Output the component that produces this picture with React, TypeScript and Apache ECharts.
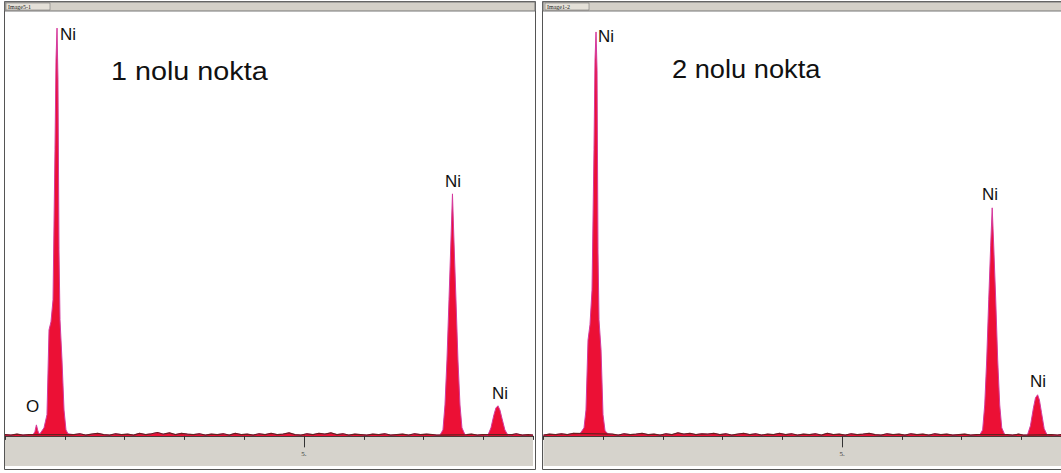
import React, { useEffect, useRef } from "react";
import * as echarts from "echarts";

// ---- data (keV, counts) ----
const p1NiL: [number, number][] = [
  [0.585, 5], [0.652, 19], [0.702, 50], [0.736, 250], [0.769, 269], [0.803, 321],
  [0.836, 675], [0.853, 887], [0.87, 962], [0.886, 840], [0.903, 439], [0.92, 274],
  [0.953, 179], [0.987, 61], [1.02, 14], [1.054, 5],
];
const p1O: [number, number][] = [[0.47, 3], [0.5, 10], [0.525, 26], [0.55, 12], [0.57, 5]];
const p1NiKa: [number, number][] = [
  [7.274, 2], [7.324, 14], [7.358, 73], [7.391, 179], [7.425, 321], [7.458, 462],
  [7.483, 571], [7.508, 462], [7.542, 321], [7.575, 179], [7.609, 73], [7.642, 19], [7.692, 3],
];
const p1NiKb: [number, number][] = [
  [8.077, 2], [8.127, 19], [8.177, 50], [8.21, 66], [8.244, 71], [8.277, 61],
  [8.31, 42], [8.36, 14], [8.41, 2],
];
const p1Noise: [number, number][] = [
  [0, 3], [0.1, 2], [0.2, 4], [0.3, 2], [0.4, 3],
  [1.15, 3], [1.25, 5], [1.35, 2], [1.45, 4], [1.55, 6], [1.65, 3], [1.75, 2], [1.85, 5],
  [1.95, 3], [2.05, 4], [2.15, 2], [2.25, 6], [2.35, 3], [2.45, 5], [2.55, 8], [2.65, 4],
  [2.75, 7], [2.85, 3], [2.95, 6], [3.05, 4], [3.15, 3], [3.25, 5], [3.35, 2], [3.45, 4],
  [3.55, 3], [3.65, 5], [3.75, 2], [3.85, 6], [3.95, 3], [4.05, 4], [4.15, 2], [4.25, 5],
  [4.35, 3], [4.45, 6], [4.55, 3], [4.65, 4], [4.75, 7], [4.85, 3], [4.95, 2], [5.05, 5],
  [5.15, 3], [5.25, 6], [5.35, 4], [5.45, 7], [5.55, 3], [5.65, 5], [5.75, 2], [5.85, 4],
  [5.95, 3], [6.05, 2], [6.15, 4], [6.25, 3], [6.35, 5], [6.45, 2], [6.55, 3], [6.65, 4],
  [6.75, 2], [6.85, 5], [6.95, 3], [7.05, 4], [7.15, 3], [7.22, 2],
  [7.72, 3], [7.8, 4], [7.9, 2], [7.98, 3], [8.48, 3], [8.55, 5], [8.65, 2], [8.75, 3], [8.83, 2],
];

const p2NiL: [number, number][] = [
  [0.611, 5], [0.678, 19], [0.711, 61], [0.745, 226], [0.778, 262], [0.812, 344],
  [0.845, 675], [0.862, 887], [0.879, 953], [0.896, 863], [0.912, 439], [0.929, 274],
  [0.963, 203], [0.996, 50], [1.03, 12], [1.08, 5],
];
const p2NiKa: [number, number][] = [
  [7.3, 2], [7.35, 14], [7.385, 73], [7.418, 179], [7.452, 321], [7.485, 450],
  [7.51, 538], [7.535, 450], [7.569, 321], [7.602, 179], [7.636, 73], [7.67, 19], [7.72, 3],
];
const p2NiKb: [number, number][] = [
  [8.1, 2], [8.15, 24], [8.2, 66], [8.235, 90], [8.27, 97], [8.3, 85],
  [8.335, 55], [8.38, 17], [8.43, 2],
];
const p2Noise: [number, number][] = [
  [0, 2], [0.1, 4], [0.2, 3], [0.3, 5], [0.4, 3], [0.5, 6],
  [1.15, 4], [1.25, 2], [1.35, 5], [1.45, 3], [1.55, 4], [1.65, 6], [1.75, 3], [1.85, 4],
  [1.95, 2], [2.05, 5], [2.15, 3], [2.25, 7], [2.35, 4], [2.45, 6], [2.55, 3], [2.65, 5],
  [2.75, 4], [2.85, 6], [2.95, 3], [3.05, 5], [3.15, 2], [3.25, 4], [3.35, 6], [3.45, 3],
  [3.55, 5], [3.65, 2], [3.75, 4], [3.85, 3], [3.95, 6], [4.05, 3], [4.15, 5], [4.25, 2],
  [4.35, 4], [4.45, 3], [4.55, 5], [4.65, 2], [4.75, 6], [4.85, 3], [4.95, 4], [5.05, 2],
  [5.15, 5], [5.25, 3], [5.35, 4], [5.45, 6], [5.55, 3], [5.65, 2], [5.75, 5], [5.85, 3],
  [5.95, 4], [6.05, 2], [6.15, 5], [6.25, 3], [6.35, 4], [6.45, 2], [6.55, 5], [6.65, 3],
  [6.75, 4], [6.85, 2], [6.95, 3], [7.05, 4], [7.15, 2], [7.25, 3],
  [7.76, 3], [7.85, 2], [7.95, 4], [8.03, 2], [8.5, 3], [8.6, 2], [8.67, 3],
];

const xMax1 = 8.83;
const xMax2 = 8.67;
const yMin = -71;
const yMax = 1000;
const majorTickKeV = 5;
const majorTickLabel = "5.";

const peakRed = "#ec1035";
const peakEdge = "#d43a9e";
const noiseColor = "#6a1f1f";

function merge(...parts: [number, number][][]): [number, number][] {
  return parts.flat().slice().sort((a, b) => a[0] - b[0]);
}

export default function App() {
  const ref = useRef<HTMLDivElement>(null);
  useEffect(() => {
    if (!ref.current) return;
    const chart = echarts.init(ref.current, undefined, { renderer: "svg" });
    const spec1 = merge(p1Noise, p1O, p1NiL, p1NiKa, p1NiKb);
    const spec2 = merge(p2Noise, p2NiL, p2NiKa, p2NiKb);

    const xAxisBase = (max: number, idx: number) => ({
      type: "value",
      gridIndex: idx,
      min: 0,
      max,
      interval: 1,
      z: 5,
      axisLine: { show: true, onZero: true, lineStyle: { color: "#4a3a3a", width: 1 } },
      axisTick: { show: true, length: 4, lineStyle: { color: "#333" } },
      axisLabel: { show: false },
      splitLine: { show: false },
    });
    const yAxisBase = (idx: number) => ({
      type: "value",
      gridIndex: idx,
      min: yMin,
      max: yMax,
      show: false,
      splitLine: { show: false },
    });
    const specSeries = (data: [number, number][], idx: number) => ({
      type: "line",
      xAxisIndex: idx,
      yAxisIndex: idx,
      data,
      symbol: "none",
      z: 2,
      lineStyle: { color: peakEdge, width: 1 },
      areaStyle: { color: peakRed, opacity: 1, origin: 0 },
      markArea: {
        silent: true,
        itemStyle: { color: "#d6d3cc" },
        data: [[{ yAxis: yMin }, { yAxis: 0 }]],
      },
      markLine: {
        silent: true,
        symbol: "none",
        lineStyle: { color: "#333", width: 1, type: "solid" },
        label: {
          show: true,
          position: "end",
          formatter: majorTickLabel,
          fontSize: 7,
          color: "#333",
          distance: 3,
          fontFamily: "Liberation Serif",
        },
        data: [[{ coord: [majorTickKeV, 0] }, { coord: [majorTickKeV, -27] }]],
      },
    });
    const noiseSeries = (data: [number, number][], idx: number) => ({
      type: "line",
      xAxisIndex: idx,
      yAxisIndex: idx,
      data,
      symbol: "none",
      z: 3,
      lineStyle: { color: noiseColor, width: 1.2 },
    });

    const txt = (x: number, y: number, text: string, size: number, scaleX = 1) => ({
      type: "text",
      x,
      y,
      scaleX,
      z: 20,
      style: { text, fontSize: size, fill: "#111", fontFamily: "Liberation Sans" },
    });

    chart.setOption({
      animation: false,
      backgroundColor: "#ffffff",
      grid: [
        { left: 5, top: 12, width: 528, height: 454, outerBoundsMode: "none", containLabel: false },
        { left: 543.5, top: 12, width: 518, height: 454, outerBoundsMode: "none", containLabel: false },
      ],
      xAxis: [xAxisBase(xMax1, 0), xAxisBase(xMax2, 1)],
      yAxis: [yAxisBase(0), yAxisBase(1)],
      series: [
        specSeries(spec1, 0),
        noiseSeries(p1Noise, 0),
        specSeries(spec2, 1),
        noiseSeries(p2Noise, 1),
      ],
      graphic: [
        // panel frames
        { type: "rect", shape: { x: 4.5, y: 1.5, width: 531, height: 468 }, style: { fill: "none", stroke: "#555", lineWidth: 1 }, z: 10 },
        { type: "rect", shape: { x: 542.5, y: 1.5, width: 530, height: 468 }, style: { fill: "none", stroke: "#555", lineWidth: 1 }, z: 10 },
        // title bars
        { type: "rect", shape: { x: 5, y: 2, width: 530, height: 9 }, style: { fill: "#d4d0c8", stroke: "#777", lineWidth: 1 }, z: 11 },
        { type: "rect", shape: { x: 543, y: 2, width: 530, height: 9 }, style: { fill: "#d4d0c8", stroke: "#777", lineWidth: 1 }, z: 11 },
        { type: "rect", shape: { x: 6, y: 3, width: 44, height: 7 }, style: { fill: "#e4e0d8", stroke: "#666", lineWidth: 0.5 }, z: 12 },
        { type: "rect", shape: { x: 545, y: 3, width: 44, height: 7 }, style: { fill: "#e4e0d8", stroke: "#666", lineWidth: 0.5 }, z: 12 },
        { type: "text", x: 8, y: 3.5, z: 13, style: { text: "Image5-1", fontSize: 6, fill: "#222", fontFamily: "Liberation Serif" } },
        { type: "text", x: 547, y: 3.5, z: 13, style: { text: "Image1-2", fontSize: 6, fill: "#222", fontFamily: "Liberation Serif" } },
        // peak labels
        txt(60, 26, "Ni", 17),
        txt(445, 173, "Ni", 17),
        txt(492, 385, "Ni", 17),
        txt(26, 398, "O", 17),
        txt(598, 28, "Ni", 17),
        txt(982, 186, "Ni", 17),
        txt(1030, 373, "Ni", 17),
        // titles
        txt(111, 59, "1 nolu nokta", 25, 1.15),
        txt(672, 57, "2 nolu nokta", 25, 1.09),
      ],
    });
    return () => chart.dispose();
  }, []);
  return (
    <div
      ref={ref}
      style={{ position: "fixed", left: 0, top: 0, width: 1061, height: 473, background: "#fff" }}
    />
  );
}
